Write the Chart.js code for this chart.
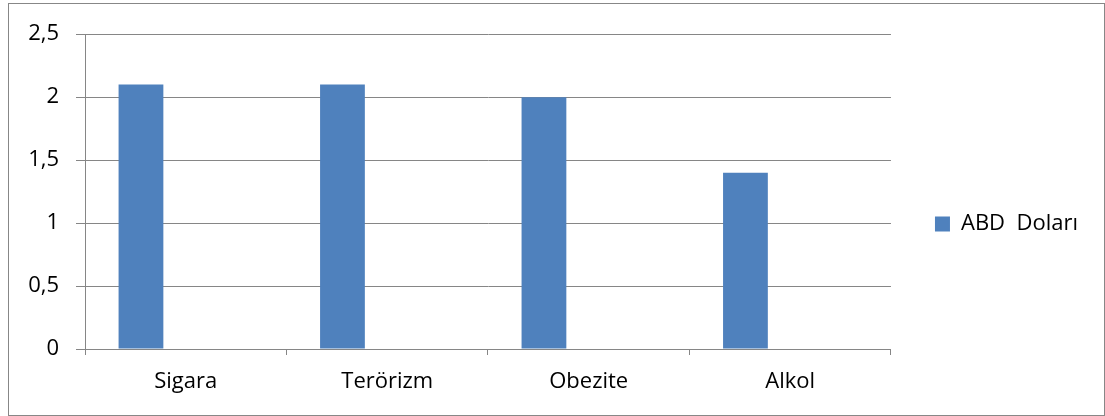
<!DOCTYPE html>
<html lang="tr">
<head>
<meta charset="utf-8">
<title>ABD Doları</title>
<script src="https://cdn.jsdelivr.net/npm/chart.js@4/dist/chart.umd.min.js"></script>
<style>
  html, body { margin: 0; padding: 0; background: #ffffff; }
  .frame {
    position: absolute;
    left: 8px; top: 3px;
    width: 1095px; height: 411px;
    border: 1px solid #878787;
    background: #ffffff;
  }
  canvas { display: block; }
</style>
</head>
<body>
<div class="frame"><canvas id="chart" width="1095" height="411"></canvas></div>
<script>
// Categories and values
const categories = ['Sigara', 'Terörizm', 'Obezite', 'Alkol'];
const seriesName = 'ABD  Doları';
const seriesValues = [2.1, 2.1, 2.0, 1.4];
const yTicks = [0, 0.5, 1, 1.5, 2, 2.5];

const FONT = { family: '"Open Sans", sans-serif', size: 22 };
const GRID = '#868686';

new Chart(document.getElementById('chart'), {
  type: 'bar',
  data: {
    labels: categories,
    datasets: [
      { label: seriesName, data: seriesValues, backgroundColor: '#4F81BD', borderWidth: 0 },
      // two empty series keep the bar on the left of each category slot
      { label: '', data: [], backgroundColor: 'transparent' },
      { label: '', data: [], backgroundColor: 'transparent' }
    ]
  },
  options: {
    responsive: false,
    animation: false,
    events: [],
    layout: { padding: { top: 29, left: 0, bottom: 0, right: 16 } },
    datasets: { bar: { categoryPercentage: 2 / 3, barPercentage: 1 } },
    plugins: {
      tooltip: { enabled: false },
      title: { display: false },
      legend: {
        position: 'right',
        align: 'center',
        labels: {
          font: FONT,
          color: '#000000',
          boxWidth: 15,
          boxHeight: 15,
          padding: 44,
          filter: (item) => item.text !== ''
        }
      }
    },
    scales: {
      x: {
        offset: true,
        grid: {
          offset: true,
          drawOnChartArea: false,
          drawTicks: true,
          tickLength: 6,
          color: GRID
        },
        border: { color: GRID, width: 1 },
        ticks: { font: FONT, color: '#000000', padding: 14, maxRotation: 0 },
        afterFit: (s) => { s.height = 66; }
      },
      y: {
        min: 0,
        max: 2.5,
        afterBuildTicks: (s) => { s.ticks = yTicks.map(v => ({ value: v })); },
        grid: { color: GRID, lineWidth: 1, tickLength: 9, drawTicks: true },
        border: { color: GRID, width: 1 },
        ticks: {
          font: FONT,
          color: '#000000',
          padding: 17,
          callback: (v) => String(v).replace('.', ',')
        },
        afterFit: (s) => { s.width = 76; }
      }
    }
  }
});
</script>
</body>
</html>
